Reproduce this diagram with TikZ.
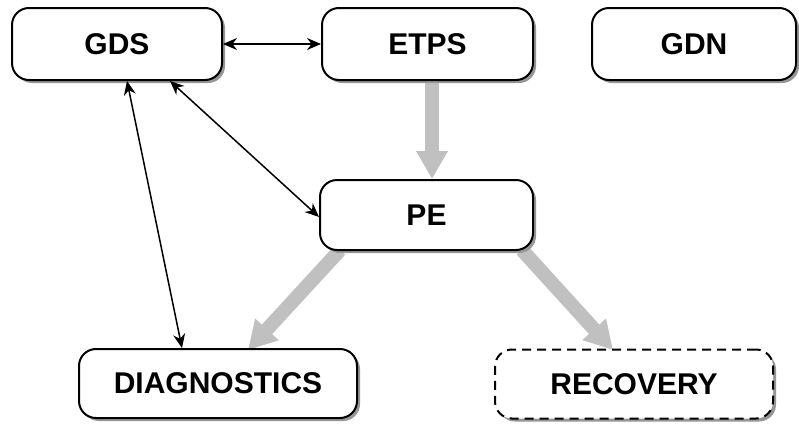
\documentclass[tikz,border=0pt]{standalone}
\usepackage{fontspec}
\setmainfont{Liberation Sans}
\usetikzlibrary{arrows.meta,shadows}
\definecolor{flowgray}{RGB}{192,192,192}
\definecolor{shadowgray}{RGB}{150,150,150}
\tikzset{
  box/.style={draw=black, line width=2pt, rounded corners=17pt, fill=white,
    font=\fontsize{30}{32}\selectfont\bfseries, inner sep=0pt,
    drop shadow={shadow xshift=3pt, shadow yshift=-3pt, fill=shadowgray, opacity=1}},
  dashedbox/.style={box, dash pattern=on 9pt off 6pt},
  link/.style={draw=black, line width=1.5pt, {Stealth[length=14pt,width=12pt]}-{Stealth[length=14pt,width=12pt]}},
  flow/.style={draw=flowgray, line width=14pt, -{Triangle[length=28pt,width=30pt]}}
}
\begin{document}
\begin{tikzpicture}[x=1pt,y=-1pt]
\useasboundingbox (0,0) rectangle (799,426);
\fill[white] (0,0) rectangle (799,426);
% connectors behind
\coordinate (etpsout) at (432,81);
\coordinate (pein) at (432,179);
\draw[flow] (etpsout) -- (pein);
\coordinate (pedl) at (340,250);
\coordinate (diagin) at (248,350);
\draw[flow] (pedl) -- (diagin);
\coordinate (pedr) at (522,250);
\coordinate (recin) at (613,350);
\draw[flow] (pedr) -- (recin);
% nodes
\node[box, minimum width=210pt, minimum height=72pt] (gds) at (117,44) {GDS};
\node[box, minimum width=211pt, minimum height=72pt] (etps) at (427.5,44) {ETPS};
\node[box, minimum width=204pt, minimum height=72pt] (gdn) at (694,44) {GDN};
\node[box, minimum width=213pt, minimum height=70pt] (pe) at (426.5,215) {PE};
\node[box, minimum width=278pt, minimum height=69pt] (diag) at (218,383.5) {DIAGNOSTICS};
\node[dashedbox, minimum width=278pt, minimum height=69pt] (rec) at (634,384) {RECOVERY};
% black links
\draw[link] (gds.east) -- (etps.west);
\draw[link] ([xshift=53pt]gds.south) -- ([yshift=-2pt]pe.west);
\draw[link] ([xshift=10pt]gds.south) -- ([xshift=-36pt]diag.north);
\end{tikzpicture}
\end{document}
